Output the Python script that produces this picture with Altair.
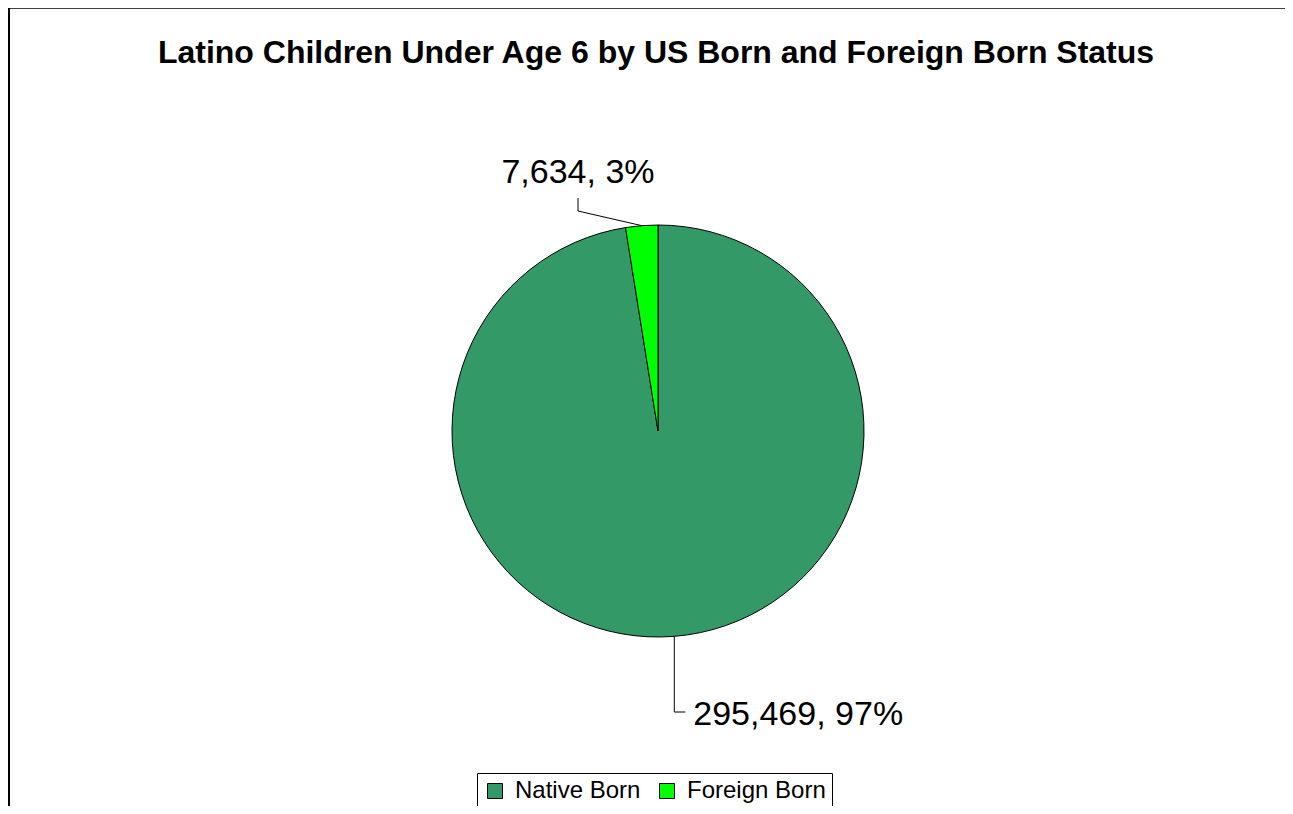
import math
import altair as alt
import pandas as pd

# ---- data ----
categories = ["Native Born", "Foreign Born"]
counts = [295469, 7634]
percents = [97, 3]
colors = ["#339966", "#00FF00"]
title_text = "Latino Children Under Age 6 by US Born and Foreign Born Status"

# ---- geometry (chart coordinates) ----
W, H = 1277, 798
CX, CY, R = 650, 423, 206
FONT = "Liberation Sans"

df = pd.DataFrame({
    "category": categories,
    "count": counts,
    "pct": percents,
    "idx": list(range(len(categories))),
})
df["label"] = [f"{c:,}, {p}%" for c, p in zip(counts, percents)]

total = sum(counts)
# mid angle of each slice (clockwise from 12 o'clock)
cum = 0
mids = []
for c in counts:
    mids.append((cum + c / 2) / total * 2 * math.pi)
    cum += c
anchors = [(CX + R * math.sin(a), CY - R * math.cos(a)) for a in mids]

color_scale = alt.Scale(domain=categories, range=colors)

pie = alt.Chart(df).mark_arc(outerRadius=R, stroke="black", strokeWidth=1).encode(
    theta=alt.Theta("count:Q", stack=True),
    order=alt.Order("idx:Q"),
    color=alt.Color(
        "category:N",
        scale=color_scale,
        sort=categories,
        legend=alt.Legend(
            title=None,
            orient="none",
            legendX=469,
            legendY=765,
            direction="horizontal",
            strokeColor="black",
            fillColor="white",
            padding=6,
            symbolType="square",
            symbolSize=225,
            symbolStrokeColor="black",
            symbolStrokeWidth=1,
            symbolOpacity=1,
            labelFont=FONT,
            labelFontSize=24,
            labelColor="black",
            labelOffset=8,
            columnPadding=14,
            labelLimit=400,
        ),
    ),
    x=alt.value(CX),
    y=alt.value(CY),
)

# leader lines
(ax0, ay0), (ax1, ay1) = anchors
native_elbow_y = 704
foreign_elbow = (570, 203)

leader_df = pd.DataFrame({
    "x": [ax0, ax0, ax1, foreign_elbow[0]],
    "y": [ay0, native_elbow_y, ay1, foreign_elbow[1]],
    "x2": [ax0, ax0 + 11, foreign_elbow[0], foreign_elbow[0]],
    "y2": [native_elbow_y, native_elbow_y, foreign_elbow[1], foreign_elbow[1] - 13],
})
leaders = alt.Chart(leader_df).mark_rule(color="black", strokeWidth=1).encode(
    x=alt.X("x:Q", scale=alt.Scale(domain=[0, W], range=[0, W]), axis=None),
    y=alt.Y("y:Q", scale=alt.Scale(domain=[0, H], range=[0, H]), axis=None),
    x2="x2:Q",
    y2="y2:Q",
)

lab_native = alt.Chart(df[df["category"] == "Native Born"]).mark_text(
    font=FONT, fontSize=34, align="left", baseline="alphabetic", color="black"
).encode(text="label:N", x=alt.value(ax0 + 19), y=alt.value(native_elbow_y + 13))

lab_foreign = alt.Chart(df[df["category"] == "Foreign Born"]).mark_text(
    font=FONT, fontSize=34, align="center", baseline="alphabetic", color="black"
).encode(text="label:N", x=alt.value(foreign_elbow[0]), y=alt.value(175))

title = alt.Chart(pd.DataFrame({"t": [title_text]})).mark_text(
    font=FONT, fontSize=32, fontWeight="bold", align="center", baseline="alphabetic", color="black"
).encode(text="t:N", x=alt.value(648), y=alt.value(55))

border_top = alt.Chart(pd.DataFrame({"a": [0]})).mark_rule(color="#404040", strokeWidth=2).encode(
    x=alt.value(0), x2=alt.value(W), y=alt.value(0)
)
border_left = alt.Chart(pd.DataFrame({"a": [0]})).mark_rule(color="black", strokeWidth=2).encode(
    x=alt.value(1), y=alt.value(0), y2=alt.value(H)
)

chart = alt.layer(border_top, border_left, pie, leaders, lab_native, lab_foreign, title).properties(
    width=W, height=H, autosize=alt.AutoSizeParams(type="none"), padding=0
).configure_view(stroke=None).resolve_scale(color="independent")

chart.save("out.html", embed_options={"renderer": "svg", "actions": False})
